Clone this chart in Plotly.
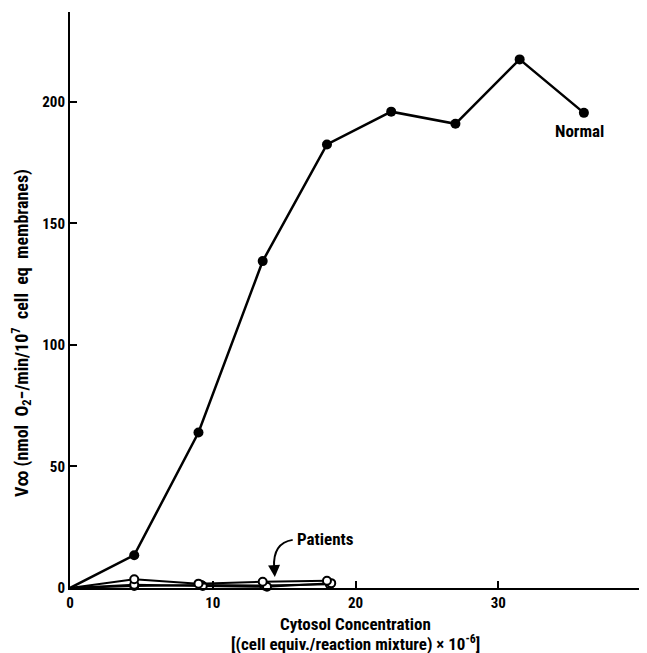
import plotly.graph_objects as go

# Data
x_normal = [0, 4.5, 9.0, 13.5, 18.0, 22.5, 27.0, 31.5, 36.0]
y_normal = [0, 13.5, 64, 134.5, 182.5, 196, 191, 217.5, 195.5]

x_patient1 = [0, 4.5, 9.0, 13.5, 18.0]
y_patient1 = [0, 3.6, 1.8, 2.6, 3.0]
x_patient2 = [0, 4.5, 9.3, 13.8, 18.3]
y_patient2 = [0, 1.3, 0.8, 0.5, 2.0]
x_patient3 = [0, 4.5, 9.2, 13.6, 18.2]
y_patient3 = [0, 0.8, 1.2, 1.0, 1.5]

x_ticks = [0, 10, 20, 30, 40]
y_ticks = [0, 50, 100, 150, 200]

FONT = "Liberation Sans Narrow, Roboto Condensed, Arial Narrow, Liberation Sans, sans-serif"

fig = go.Figure()

for xp, yp in [(x_patient3, y_patient3), (x_patient2, y_patient2), (x_patient1, y_patient1)]:
    fig.add_trace(go.Scatter(
        x=xp, y=yp, mode="lines+markers",
        line=dict(color="black", width=2),
        marker=dict(symbol="circle", size=[0, 8, 8, 8, 8], color="white", opacity=1,
                    line=dict(color="black", width=2)),
        showlegend=False, cliponaxis=False))

fig.add_trace(go.Scatter(
    x=x_normal, y=y_normal, mode="lines+markers",
    line=dict(color="black", width=2.5),
    marker=dict(symbol="circle", size=[0] + [10] * 8, color="black", opacity=1,
                line=dict(color="black", width=0)),
    showlegend=False, cliponaxis=False))

# Labels
fig.add_annotation(x=35.7, y=188, text="<b>Normal</b>", showarrow=False,
                   xanchor="center", yanchor="middle",
                   font=dict(family=FONT, size=17, color="black"))
fig.add_annotation(x=17.9, y=20.2, text="<b>Patients</b>", showarrow=False,
                   xanchor="center", yanchor="middle",
                   font=dict(family=FONT, size=17, color="black"))

# curved arrow
fig.add_shape(type="path", path="M 15.6 19.8 Q 14.2 18.5 14.3 8.5",
              xref="x", yref="y", line=dict(color="black", width=2))
fig.add_annotation(x=14.35, y=4.5, ax=14.3, ay=9, xref="x", yref="y",
                   axref="x", ayref="y", text="", showarrow=True,
                   arrowhead=2, arrowsize=1.2, arrowwidth=2, arrowcolor="black")

# Axis titles as annotations (pixel-placed; plot area spans 576 px tall, 571 px wide)
fig.add_annotation(xref="paper", yref="paper", x=0.5, y=(588 - 624) / 576,
                   text="<b>Cytosol Concentration</b>", showarrow=False,
                   xanchor="center", yanchor="middle",
                   font=dict(family=FONT, size=17, color="black"))
fig.add_annotation(xref="paper", yref="paper", x=0.5, y=(588 - 643) / 576,
                   text="<b>[(cell equiv./reaction mixture) × 10<sup>-6</sup>]</b>", showarrow=False,
                   xanchor="center", yanchor="middle",
                   font=dict(family=FONT, size=17, color="black"))
fig.add_annotation(xref="paper", yref="paper", x=(21 - 70) / 571, y=(588 - 333) / 576,
                   text="<b>V∞ (nmol  O<sub>2</sub>−/min/10<sup>7</sup>  cell  eq  membranes)</b>",
                   showarrow=False, textangle=-90, xanchor="center", yanchor="middle",
                   font=dict(family=FONT, size=18, color="black"))

# The page body adds an 8 px offset; size the figure so the plot area lands
# at page pixels x 70..641, y 12..588.
fig.update_layout(
    width=639, height=645,
    margin=dict(l=62, r=6, t=4, b=65, autoexpand=False),
    paper_bgcolor="white", plot_bgcolor="white",
    font=dict(family=FONT, color="black", size=14),
    xaxis=dict(range=[0, 40], tickvals=x_ticks, ticktext=[f"<b>{v}</b>" for v in x_ticks],
               showgrid=False, zeroline=False, showline=True, linecolor="black",
               linewidth=2, ticks="inside", ticklen=7, tickwidth=1.5, tickcolor="black",
               tickfont=dict(family=FONT, size=15), automargin=False),
    yaxis=dict(range=[0, 237], tickvals=y_ticks, ticktext=[f"<b>{v}</b>" for v in y_ticks],
               showgrid=False, zeroline=False, showline=True, linecolor="black",
               linewidth=2, ticks="inside", ticklen=7, tickwidth=1.5, tickcolor="black",
               tickfont=dict(family=FONT, size=15), automargin=False),
)

fig.write_html("out.html")
